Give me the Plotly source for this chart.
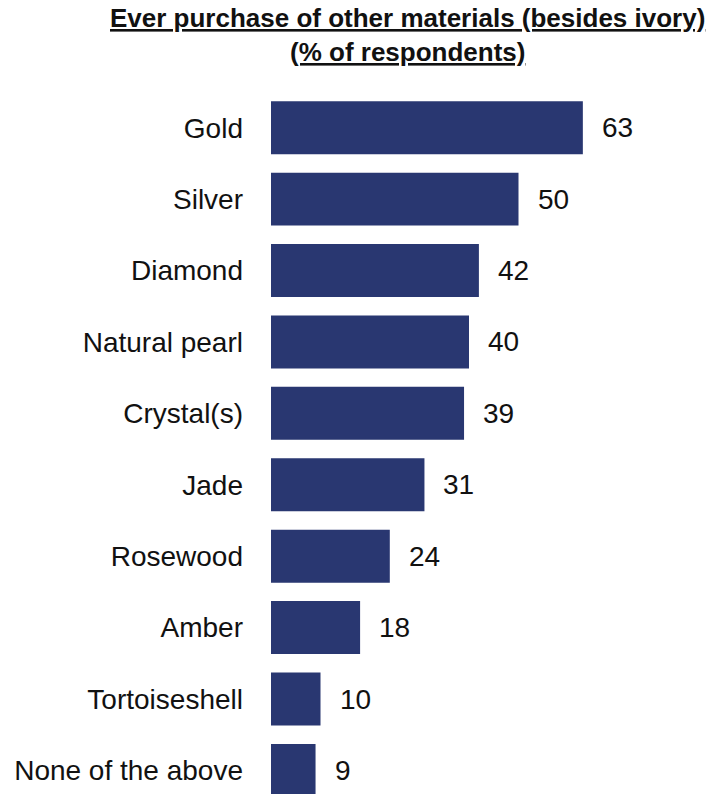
import plotly.graph_objects as go

categories = ["Gold", "Silver", "Diamond", "Natural pearl", "Crystal(s)", "Jade",
              "Rosewood", "Amber", "Tortoiseshell", "None of the above"]
values = [63, 50, 42, 40, 39, 31, 24, 18, 10, 9]
title_line1 = "Ever purchase of other materials (besides ivory)"
title_line2 = "(% of respondents)"

BAR = "#293771"
FONT = "Liberation Sans, Arial, sans-serif"

fig = go.Figure()
fig.add_trace(go.Bar(
    x=values, y=categories, orientation="h",
    marker=dict(color=BAR, line=dict(width=0)),
    hoverinfo="skip",
))

for c, v in zip(categories, values):
    fig.add_annotation(x=v, y=c, text=str(v), showarrow=False,
                       xanchor="left", yanchor="middle", xshift=17,
                       font=dict(family=FONT, size=28, color="#111111"))

fig.add_annotation(xref="paper", yref="paper", x=(407 - 271) / 437, y=1,
                   yanchor="middle", xanchor="center", yshift=92 - 18,
                   text="<u>" + title_line1 + "</u>", showarrow=False,
                   font=dict(family=FONT, size=26, color="#111111", weight="bold"))
fig.add_annotation(xref="paper", yref="paper", x=(407 - 271) / 437, y=1,
                   yanchor="middle", xanchor="center", yshift=92 - 52,
                   text="<u>" + title_line2 + "</u>", showarrow=False,
                   font=dict(family=FONT, size=26, color="#111111", weight="bold"))

fig.update_layout(
    width=708, height=794,
    margin=dict(l=271, r=0, t=92, b=0, pad=0, autoexpand=False),
    paper_bgcolor="white", plot_bgcolor="white",
    bargap=0.258,
    showlegend=False,
    xaxis=dict(range=[0, 437 / 4.95], visible=False, fixedrange=True, automargin=False),
    yaxis=dict(type="category", categoryorder="array", categoryarray=categories,
               range=[9.33, -0.5], showgrid=False, zeroline=False, showline=False,
               ticks="", ticklabelstandoff=27, automargin=False, fixedrange=True,
               tickfont=dict(family=FONT, size=28, color="#111111")),
)

fig.write_html("out.html", config={"displayModeBar": False, "staticPlot": True},
               post_script="document.body.style.margin='0';document.body.style.overflow='hidden';")
